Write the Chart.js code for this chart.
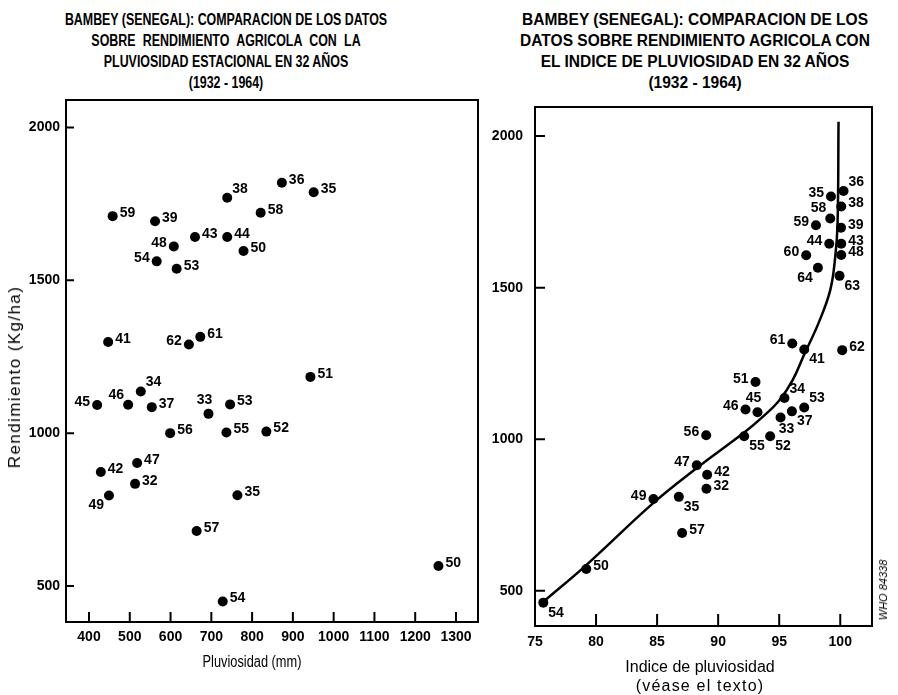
<!DOCTYPE html>
<html>
<head>
<meta charset="utf-8">
<script src="https://cdn.jsdelivr.net/npm/chart.js@4.4.1/dist/chart.umd.min.js"></script>
<style>
  body { margin: 0; background: #fff; width: 898px; height: 695px; position: relative; overflow: hidden;
         font-family: "Liberation Sans", Arial, sans-serif; color: #000; }
  .title { position: absolute; text-align: center; font-size: 16px; font-weight: bold; line-height: 21px; white-space: nowrap; width: 440px; }
  .axis { position: absolute; white-space: nowrap; text-align: center; width: 240px; }
  #leftChart { position: absolute; left: 0; top: 0; }
  #rightChart { position: absolute; left: 485px; top: 0; }
  #ylabel { position: absolute; left: 15px; top: 377px; transform: translate(-50%, -50%) rotate(-90deg);
            font-size: 17px; letter-spacing: 1.4px; white-space: nowrap; }
  #who { position: absolute; left: 883px; top: 590px; transform: translate(-50%, -50%) rotate(-90deg);
         font: italic 11px "Liberation Sans", Arial, sans-serif; white-space: nowrap; }
</style>
</head>
<body>
<div class="title" style="left:6px; top:9px; transform: scaleX(0.775);">BAMBEY (SENEGAL): COMPARACION DE LOS DATOS<br><span style="word-spacing:5px">SOBRE RENDIMIENTO AGRICOLA CON LA</span><br>PLUVIOSIDAD ESTACIONAL EN 32 AÑOS<br>(1932 - 1964)</div>
<div class="title" style="left:475px; top:9px; transform: scaleX(0.97);">BAMBEY (SENEGAL): COMPARACION DE LOS<br>DATOS SOBRE RENDIMIENTO AGRICOLA CON<br>EL INDICE DE PLUVIOSIDAD EN 32 AÑOS<br>(1932 - 1964)</div>
<canvas id="leftChart" width="485" height="695"></canvas>
<canvas id="rightChart" width="413" height="695"></canvas>
<div id="ylabel">Rendimiento (Kg/ha)</div>
<div class="axis" style="left:132px; top:652px; font-size:16px; line-height:19px; transform: scaleX(0.8);">Pluviosidad (mm)</div>
<div class="axis" style="left:580px; top:657px; font-size:16px; line-height:19px;">Indice de pluviosidad<br><span style="letter-spacing:1.2px">(véase el texto)</span></div>
<div id="who">WHO 84338</div>
<script>
// ── Left: rendimiento vs pluviosidad estacional ──
const leftYears = [32, 33, 34, 35, 35, 36, 37, 38, 39, 41, 42, 43, 44, 45, 46, 47, 48, 49, 50, 50, 51, 52, 53, 53, 54, 54, 55, 56, 57, 58, 59, 61, 62];
const leftRain  = [513, 693, 527, 951, 764, 873, 554, 739, 562, 447, 429, 660, 739, 420, 496, 518, 608, 449, 779, 1257, 943, 835, 615, 746, 566, 728, 737, 599, 664, 821, 458, 673, 645];
const leftYield = [834, 1063, 1136, 1788, 797, 1819, 1085, 1770, 1693, 1298, 873, 1642, 1642, 1092, 1093, 902, 1611, 796, 1596, 565, 1184, 1005, 1538, 1094, 1562, 449, 1002, 1000, 680, 1721, 1710, 1315, 1290];
const leftLabelPos = ['r', 'u', 'ur', 'r', 'r', 'r', 'r', 'ur', 'r', 'r', 'r', 'r', 'r', 'l', 'ul', 'r', 'l', 'll', 'r', 'r', 'r', 'r', 'r', 'r', 'l', 'r', 'r', 'r', 'r', 'r', 'r', 'r', 'l'];
const leftXTicks = [400, 500, 600, 700, 800, 900, 1000, 1100, 1200, 1300];
const leftYTicks = [500, 1000, 1500, 2000];

// ── Right: rendimiento vs indice de pluviosidad ──
const rightYears = [36, 35, 38, 58, 59, 39, 44, 43, 60, 48, 64, 63, 61, 41, 62, 51, 34, 46, 45, 53, 37, 33, 56, 55, 52, 47, 42, 32, 49, 35, 57, 50, 54];
const rightIndex = [100.27, 99.24, 100.08, 99.18, 98.01, 100.06, 99.1, 100.08, 97.21, 100.08, 98.17, 99.94, 96.07, 97.05, 100.16, 93.06, 95.43, 92.24, 93.22, 97.05, 96.04, 95.11, 89.02, 92.13, 94.26, 88.25, 89.1, 89.04, 84.7, 86.78, 87.05, 79.2, 75.68];
const rightYield = [1819, 1801, 1768, 1728, 1706, 1698, 1645, 1645, 1607, 1608, 1566, 1539, 1316, 1296, 1294, 1189, 1136, 1098, 1089, 1105, 1092, 1072, 1013, 1010, 1010, 914, 883, 837, 803, 810, 691, 572, 461];
const rightLabelPos = ['ur', 'l', 'r', 'ul', 'l', 'r', 'l', 'r', 'l', 'r', 'll', 'lr', 'l', 'lr', 'r', 'l', 'ur', 'l', 'u', 'ur', 'lr', 'd', 'l', 'lr', 'lr', 'l', 'r', 'r', 'l', 'lr', 'r', 'r', 'lr'];
// fitted curve
const curveIndex = [75.74, 79.2, 84.7, 88.25, 92.13, 93.6, 95.0, 96.1, 97.05, 98.22, 99.18, 99.59, 99.78, 99.86];
const curveYield = [466, 585, 790, 905, 1022, 1072, 1128, 1195, 1280, 1383, 1492, 1602, 1712, 2047];
const rightXTicks = [75, 80, 85, 90, 95, 100];
const rightYTicks = [500, 1000, 1500, 2000];

const tickFont = { family: '"Liberation Sans", Arial, sans-serif', size: 14, weight: 'bold' };

const labelOffsets = {
  r:  [7, -3, 'left'],
  ur: [5, -9, 'left'],
  l:  [-7, -3, 'right'],
  ul: [-4, -10, 'right'],
  lr: [5, 10, 'left'],
  ll: [-5, 10, 'right'],
  u:  [-4, -14, 'center'],
  d:  [6, 12, 'center']
};

// frame, inward tick marks and year labels
function framePlugin(years, positions, tickLenX, tickLenY) {
  return {
    id: 'frame',
    afterDatasetsDraw(chart) {
      const ctx = chart.ctx;
      const a = chart.chartArea;
      ctx.save();
      ctx.strokeStyle = '#000';
      ctx.lineWidth = 2;
      ctx.strokeRect(a.left, a.top, a.right - a.left, a.bottom - a.top);
      ctx.beginPath();
      chart.scales.x.ticks.forEach(t => {
        const px = chart.scales.x.getPixelForValue(t.value);
        ctx.moveTo(px, a.bottom);
        ctx.lineTo(px, a.bottom - tickLenX);
      });
      chart.scales.y.ticks.forEach(t => {
        const py = chart.scales.y.getPixelForValue(t.value);
        ctx.moveTo(a.left, py);
        ctx.lineTo(a.left + tickLenY, py);
      });
      ctx.stroke();

      const meta = chart.getDatasetMeta(0);
      ctx.font = 'bold 14px "Liberation Sans", Arial, sans-serif';
      ctx.fillStyle = '#000';
      ctx.textBaseline = 'middle';
      meta.data.forEach((pt, i) => {
        const [dx, dy, align] = labelOffsets[positions[i]];
        ctx.textAlign = align;
        ctx.fillText(String(years[i]), pt.x + dx, pt.y + dy);
      });
      ctx.restore();
    }
  };
}

function axis(min, max, tickList, padding, fit) {
  return {
    type: 'linear',
    min: min,
    max: max,
    grid: { display: false, drawTicks: false, tickLength: 0 },
    border: { display: false },
    ticks: { font: tickFont, color: '#000', padding: padding, autoSkip: false, maxRotation: 0, callback: v => String(v) },
    afterBuildTicks: s => { s.ticks = tickList.map(v => ({ value: v })); },
    afterFit: fit
  };
}

new Chart(document.getElementById('leftChart'), {
  type: 'scatter',
  data: {
    datasets: [{
      data: leftRain.map((x, i) => ({ x: x, y: leftYield[i] })),
      backgroundColor: '#000',
      borderWidth: 0,
      pointRadius: 5
    }]
  },
  options: {
    responsive: false,
    animation: false,
    layout: { padding: { left: 0, top: 100, right: 7, bottom: 0 } },
    plugins: { legend: { display: false }, tooltip: { enabled: false } },
    scales: {
      x: axis(343.6, 1354, leftXTicks, 7, s => { s.height = 73; s.paddingLeft = 0; s.paddingRight = 0; }),
      y: axis(382, 2090, leftYTicks, 6, s => { s.width = 66; s.paddingTop = 0; s.paddingBottom = 0; })
    }
  },
  plugins: [framePlugin(leftYears, leftLabelPos, 10, 8)]
});

new Chart(document.getElementById('rightChart'), {
  type: 'scatter',
  data: {
    datasets: [{
      data: rightIndex.map((x, i) => ({ x: x, y: rightYield[i] })),
      backgroundColor: '#000',
      borderWidth: 0,
      pointRadius: 5
    }, {
      data: curveIndex.map((x, i) => ({ x: x, y: curveYield[i] })),
      showLine: true,
      borderColor: '#000',
      borderWidth: 2.5,
      pointRadius: 0,
      tension: 0.4
    }]
  },
  options: {
    responsive: false,
    animation: false,
    layout: { padding: { left: 0, top: 107, right: 26, bottom: 0 } },
    plugins: { legend: { display: false }, tooltip: { enabled: false } },
    scales: {
      x: axis(75, 102.6, rightXTicks, 8, s => { s.height = 69; s.paddingLeft = 0; s.paddingRight = 0; }),
      y: axis(384, 2096, rightYTicks, 12, s => { s.width = 50; s.paddingTop = 0; s.paddingBottom = 0; })
    }
  },
  plugins: [framePlugin(rightYears, rightLabelPos, 12, 10)]
});
</script>
</body>
</html>
